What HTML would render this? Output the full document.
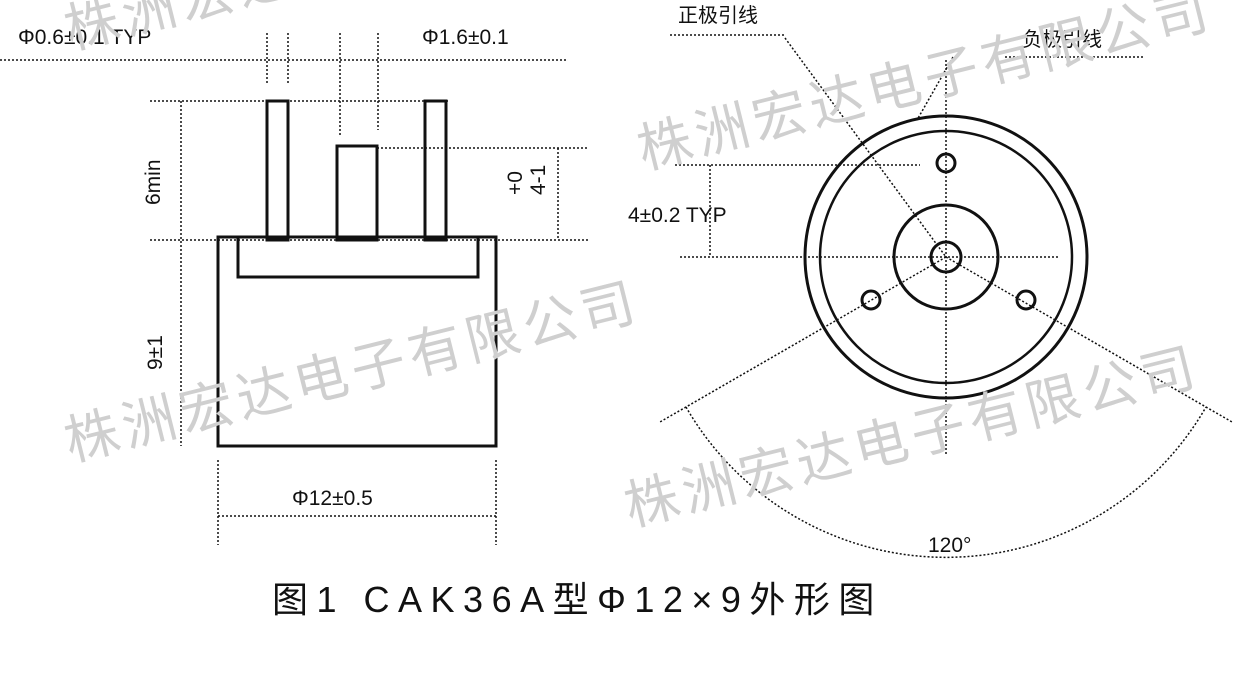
<!DOCTYPE html>
<html><head><meta charset="utf-8"><style>
body{margin:0;background:#fff;width:1240px;height:685px;overflow:hidden;position:relative;font-family:"Liberation Sans","Noto Sans CJK SC",sans-serif}
.wm{position:absolute;color:#cfcfcf;font-size:54px;letter-spacing:5px;transform-origin:0 0;transform:rotate(-14deg);white-space:nowrap;font-family:"Noto Sans CJK SC",sans-serif}
</style></head><body>
<svg width="1240" height="685" style="position:absolute;left:0;top:0" font-family="Liberation Sans, Noto Sans CJK SC, sans-serif">
<g fill="none" stroke="#111" stroke-width="1.5" stroke-dasharray="2 2">
<line x1="0" y1="60" x2="567" y2="60"/>
<line x1="267" y1="33" x2="267" y2="85"/><line x1="288" y1="33" x2="288" y2="85"/>
<line x1="340" y1="33" x2="340" y2="135"/><line x1="378" y1="33" x2="378" y2="130"/>
<line x1="150" y1="101" x2="450" y2="101"/>
<line x1="377" y1="148" x2="588" y2="148"/>
<line x1="150" y1="240" x2="588" y2="240"/>
<line x1="181" y1="101" x2="181" y2="446"/>
<line x1="558" y1="148" x2="558" y2="240"/>
<line x1="218" y1="460" x2="218" y2="545"/><line x1="496" y1="460" x2="496" y2="545"/>
<line x1="218" y1="516" x2="496" y2="516"/>
<line x1="946" y1="60" x2="946" y2="455"/>
<line x1="680" y1="257" x2="1060" y2="257"/>
<line x1="675" y1="165" x2="920" y2="165"/>
<line x1="710" y1="165" x2="710" y2="257"/>
<line x1="670" y1="35" x2="785" y2="35"/>
<line x1="1005" y1="57" x2="1145" y2="57"/>
<line x1="785" y1="38" x2="946" y2="257"/>
<line x1="953" y1="57" x2="917" y2="120"/>
<line x1="946" y1="257" x2="660" y2="422"/>
<line x1="946" y1="257" x2="1232" y2="422"/>
<path d="M686 407 A300 300 0 0 0 1206 407"/>
</g>
<g fill="none" stroke="#111" stroke-width="3">
<rect x="218" y="237" width="278" height="209"/>
<rect x="238" y="237" width="240" height="40"/>
<rect x="267" y="101" width="21" height="139"/>
<rect x="425" y="101" width="21" height="139"/>
<rect x="337" y="146" width="40" height="94"/>
<circle cx="946" cy="257" r="141"/>
<circle cx="946" cy="257" r="126" stroke-width="2.5"/>
<circle cx="946" cy="257" r="52"/>
<circle cx="946" cy="257" r="15"/>
<circle cx="946" cy="163" r="9"/>
<circle cx="871" cy="300" r="9"/>
<circle cx="1026" cy="300" r="9"/>
</g>
<g fill="#111" font-size="21">
<text x="18" y="44">Φ0.6±0.1 TYP</text>
<text x="422" y="44">Φ1.6±0.1</text>
<text x="292" y="505">Φ12±0.5</text>
<text transform="translate(160,205) rotate(-90)">6min</text>
<text transform="translate(162,370) rotate(-90)">9±1</text>
<text transform="translate(522,195) rotate(-90)">+0</text>
<text transform="translate(545,195) rotate(-90)">4-1</text>
<text x="628" y="222">4±0.2 TYP</text>
<text x="928" y="552">120°</text>
<text x="678" y="22" font-size="20">正极引线</text>
<text x="1022" y="46" font-size="20">负极引线</text>
<text x="272" y="612" font-size="36" letter-spacing="8.5">图1 CAK36A型Φ12×9外形图</text>
</g>
</svg>
<div class="wm" style="left:55px;top:-12px">株洲宏达电子有限公司</div>
<div class="wm" style="left:628px;top:108px">株洲宏达电子有限公司</div>
<div class="wm" style="left:55px;top:400px">株洲宏达电子有限公司</div>
<div class="wm" style="left:615px;top:465px">株洲宏达电子有限公司</div>
</body></html>
